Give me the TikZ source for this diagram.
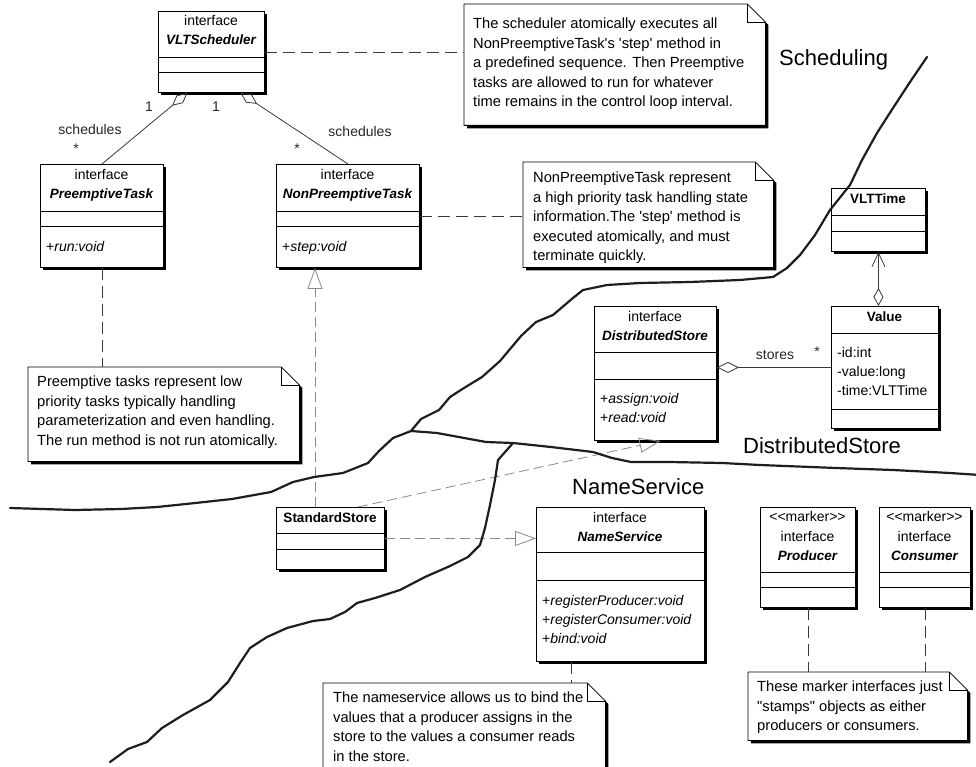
\documentclass[tikz,border=0pt]{standalone}
\usepackage{fontspec}
\setmainfont{Liberation Sans}[Ligatures=TeXOff]
\usetikzlibrary{arrows.meta,shadows}

\definecolor{inkline}{HTML}{1E1E1E}
\definecolor{linkgray}{HTML}{3A3A3A}
\definecolor{realgray}{HTML}{8A8A8A}

\tikzset{
  classframe/.style={draw=black, line width=0.9pt, fill=white, inner sep=0pt, anchor=north west,
     general shadow={fill=black, shadow xshift=3pt, shadow yshift=-3pt}},
  classrule/.style={draw=black, line width=0.9pt},
  ctext/.style={inner sep=0pt, text height=10pt, text depth=3pt, font=\fontsize{14}{16}\selectfont},
  cname/.style={inner sep=0pt, text height=10pt, text depth=3pt, font=\fontsize{13.5}{16}\selectfont\bfseries\itshape},
  cbold/.style={inner sep=0pt, text height=10pt, text depth=3pt, font=\fontsize{13.5}{16}\selectfont\bfseries},
  cmember/.style={ctext, anchor=west},
  noteframe/.style={inner sep=0pt, anchor=north west},
  notetext/.style={inner sep=0pt, anchor=north west, align=left, font=\fontsize{14.7}{19.5}\selectfont},
  rolelabel/.style={inner sep=0pt, font=\fontsize{14}{16}\selectfont, text=black!85},
  region/.style={inner sep=0pt, anchor=west, font=\fontsize{22}{24}\selectfont},
  boundary/.style={draw=inkline, line width=2.2pt, line join=round, line cap=round},
  notelink/.style={draw=linkgray, line width=0.8pt, dash pattern=on 12pt off 6pt},
  realize/.style={draw=realgray, line width=0.8pt, dash pattern=on 10pt off 5pt,
     -{Triangle[open, length=21pt, width=15pt, line width=0.8pt]}},
  aggregate/.style={draw=linkgray, line width=0.8pt, {Diamond[open, length=20pt, width=10pt]}-},
}

% two horizontal rules splitting a class box into compartments
\newcommand\compartments[3]{%
  \draw[classrule] ([yshift=-#2pt]#1.north west) -- ([yshift=-#2pt]#1.north east);
  \draw[classrule] ([yshift=-#3pt]#1.north west) -- ([yshift=-#3pt]#1.north east);}

% note with folded corner and a solid shadow
\newcommand\umlnote[5]{%
  \node[noteframe, minimum width=#4pt, minimum height=#5pt] (#1) at (#2,#3) {};
  \fill[black] ([shift={(3pt,-3pt)}]#1.north west) -- ([shift={(-15pt,-3pt)}]#1.north east)
     -- ([shift={(3pt,-21pt)}]#1.north east) -- ([shift={(3pt,-3pt)}]#1.south east)
     -- ([shift={(3pt,-3pt)}]#1.south west) -- cycle;
  \draw[fill=white, line width=0.8pt, line join=miter] (#1.north west) -- ([xshift=-18pt]#1.north east)
     -- ([yshift=-18pt]#1.north east) -- (#1.south east) -- (#1.south west) -- cycle;
  \draw[line width=0.8pt] ([xshift=-18pt]#1.north east) |- ([yshift=-18pt]#1.north east);}

\begin{document}
\begin{tikzpicture}[x=1pt,y=-1pt]
\fill[white] (0,0) rectangle (976,767);
\useasboundingbox (0,0) rectangle (976,767);

% ---------------- classes ----------------
\node[classframe, minimum width=106pt, minimum height=81pt] (sched) at (158,11) {};
\compartments{sched}{46}{61}
\node[ctext] (sched-st) at (211,22) {interface};
\node[cname] (sched-nm) at (211,41) {VLTScheduler};

\node[classframe, minimum width=123pt, minimum height=103pt] (pre) at (40,164) {};
\compartments{pre}{47}{62}
\node[ctext] (pre-st) at (101.5,176) {interface};
\node[cname] (pre-nm) at (101.5,195) {PreemptiveTask};
\node[cmember] (pre-m1) at (46,248) {+\textit{run:void}};

\node[classframe, minimum width=143pt, minimum height=103pt] (npt) at (276,164) {};
\compartments{npt}{47}{62}
\node[ctext] (npt-st) at (347.5,176) {interface};
\node[cname] (npt-nm) at (347.5,195) {NonPreemptiveTask};
\node[cmember] (npt-m1) at (282,248) {+\textit{step:void}};

\node[classframe, minimum width=122pt, minimum height=134pt] (dstore) at (594,306) {};
\compartments{dstore}{46}{73}
\node[ctext] (dstore-st) at (655,318) {interface};
\node[cname] (dstore-nm) at (655,337) {DistributedStore};
\node[cmember] (dstore-m1) at (600,400) {+\textit{assign:void}};
\node[cmember] (dstore-m2) at (600,419) {+\textit{read:void}};

\node[classframe, minimum width=107pt, minimum height=122pt] (value) at (831,306) {};
\compartments{value}{27}{103}
\node[cbold] (value-nm) at (884.5,318) {Value};
\node[cmember] (value-a1) at (837,354) {-id:int};
\node[cmember] (value-a2) at (837,373) {-value:long};
\node[cmember] (value-a3) at (837,392) {-time:VLTTime};

\node[classframe, minimum width=94pt, minimum height=63pt] (vlt) at (831,188) {};
\compartments{vlt}{27}{43}
\node[cbold] (vlt-nm) at (878,200) {VLTTime};

\node[classframe, minimum width=108pt, minimum height=62pt] (std) at (276,507) {};
\compartments{std}{26}{42}
\node[cbold] (std-nm) at (330,519) {StandardStore};

\node[classframe, minimum width=168pt, minimum height=154pt] (ns) at (536,507) {};
\compartments{ns}{45}{73}
\node[ctext] (ns-st) at (620,519) {interface};
\node[cname] (ns-nm) at (620,538) {NameService};
\node[cmember] (ns-m1) at (542,602) {+\textit{registerProducer:void}};
\node[cmember] (ns-m2) at (542,621) {+\textit{registerConsumer:void}};
\node[cmember] (ns-m3) at (542,640) {+\textit{bind:void}};

\node[classframe, minimum width=95pt, minimum height=100pt] (prod) at (760,507) {};
\compartments{prod}{65}{80}
\node[ctext] (prod-mk) at (807.5,518) {<<marker>>};
\node[ctext] (prod-st) at (807.5,538) {interface};
\node[cname] (prod-nm) at (807.5,557) {Producer};

\node[classframe, minimum width=91pt, minimum height=100pt] (cons) at (879,507) {};
\compartments{cons}{65}{80}
\node[ctext] (cons-mk) at (924.5,518) {<<marker>>};
\node[ctext] (cons-st) at (924.5,538) {interface};
\node[cname] (cons-nm) at (924.5,557) {Consumer};

% ---------------- notes ----------------
\umlnote{note1}{464}{4}{301}{121}
\node[notetext] (note1-t) at ([shift={(9pt,-14pt)}]note1.north west)
  {The scheduler atomically executes all\\NonPreemptiveTask's 'step' method in\\a predefined sequence. Then Preemptive\\tasks are allowed to run for whatever\\time remains in the control loop interval.};

\umlnote{note2}{523}{162}{250}{105}
\node[notetext] (note2-t) at ([shift={(10pt,-10pt)}]note2.north west)
  {NonPreemptiveTask represent\\a high priority task handling state\\information.The 'step' method is\\executed atomically, and must\\terminate quickly.};

\umlnote{prenote}{28}{367}{271}{94}
\node[notetext] (prenote-t) at ([shift={(9pt,-9pt)}]prenote.north west)
  {Preemptive tasks represent low\\priority tasks typically handling\\parameterization and even handling.\\The run method is not run atomically.};

\umlnote{nsnote}{323}{683}{282}{92}
\node[notetext] (nsnote-t) at ([shift={(10pt,-9pt)}]nsnote.north west)
  {The nameservice allows us to bind the\\values that a producer assigns in the\\store to the values a consumer reads\\in the store.};

\umlnote{mnote}{748}{672}{219}{68}
\node[notetext] (mnote-t) at ([shift={(9pt,-9pt)}]mnote.north west)
  {These marker interfaces just\\"stamps" objects as either\\producers or consumers.};

% ---------------- relations ----------------
\draw[aggregate] ([xshift=-24pt]sched.south) -- (pre.north);
\draw[aggregate] ([xshift=29pt]sched.south) -- (npt.north);
\node[rolelabel] (r1) at (149,107) {1};
\node[rolelabel] (r2) at (216,107) {1};
\node[rolelabel] (r3) at (90,129) {schedules};
\node[rolelabel] (r4) at (360,131) {schedules};
\node[rolelabel] (r5) at (76,149) {*};
\node[rolelabel] (r6) at (297,149) {*};

\draw[notelink] (sched.east) -- (sched.east -| note1.west);
\draw[notelink] (npt.east) -- (npt.east -| note2.west);
\draw[notelink] (pre.south) -- (pre.south |- prenote.north);
\draw[notelink] ([xshift=35pt]ns.south west) -- ([xshift=248pt]nsnote.north west);
\draw[notelink] (prod.south) -- (prod.south |- mnote.north);
\draw[notelink] (cons.south) -- (cons.south |- mnote.north);

\draw[realize] ([xshift=39pt]std.north west) -- ([xshift=39pt]npt.south west);
\draw[realize] ([xshift=-27pt]std.north east) -- ([xshift=5pt]dstore.south);
\draw[realize] (std.east) -- (std.east -| ns.west);

\draw[draw=linkgray, line width=0.8pt, {Diamond[open, length=22pt, width=11pt]}-] (value.west -| dstore.east) -- (value.west);
\node[rolelabel] (r7) at (775,355) {stores};
\node[rolelabel] (r8) at (817,352) {*};

\draw[draw=linkgray, line width=0.8pt, {Diamond[open, length=18pt, width=10pt]}-{Straight Barb[length=14pt, width=13pt]}]
  (vlt.south |- value.north) -- (vlt.south);

% ---------------- package regions ----------------
\node[region] (lbl-sched) at (779,60) {Scheduling};
\node[region] (lbl-dist) at (743,446) {DistributedStore};
\node[region] (lbl-ns) at (572,487) {NameService};

\draw[boundary] (10,508) -- (75,510) -- (121,509) -- (157,507) -- (186,504) -- (232,499)
  -- (271,492) -- (293,482) -- (314,477) -- (343,473) -- (368,463) -- (379,451) -- (393,438)
  -- (411,431) -- (421,419) -- (439,410) -- (450,397) -- (464,388) -- (482,377) -- (500,361)
  -- (521,336) -- (536,322) -- (553,315) -- (573,298) -- (583,290) -- (607,285) -- (640,283)
  -- (690,282) -- (740,280) -- (773,277) -- (787,268) -- (800,255) -- (815,235) -- (830,210)
  -- (850,185) -- (862,160) -- (877,133) -- (893,108) -- (910,82) -- (927,57);
\draw[boundary] (411,431) -- (437,433) -- (486,442) -- (513,443) -- (551,447) -- (593,452)
  -- (612,458) -- (631,462) -- (669,462) -- (722,463) -- (760,465) -- (836,468) -- (893,470)
  -- (950,473) -- (980,475);
\draw[boundary] (513,443) -- (498,460) -- (495,480) -- (490,505) -- (485,528) -- (480,545)
  -- (468,557) -- (450,566) -- (425,577) -- (400,590) -- (375,598) -- (357,603) -- (345,612)
  -- (330,619) -- (313,621) -- (287,628) -- (267,637) -- (250,648) -- (240,663) -- (228,682)
  -- (210,700) -- (183,715) -- (162,728) -- (147,742) -- (128,749) -- (110,762);
\end{tikzpicture}
\end{document}
